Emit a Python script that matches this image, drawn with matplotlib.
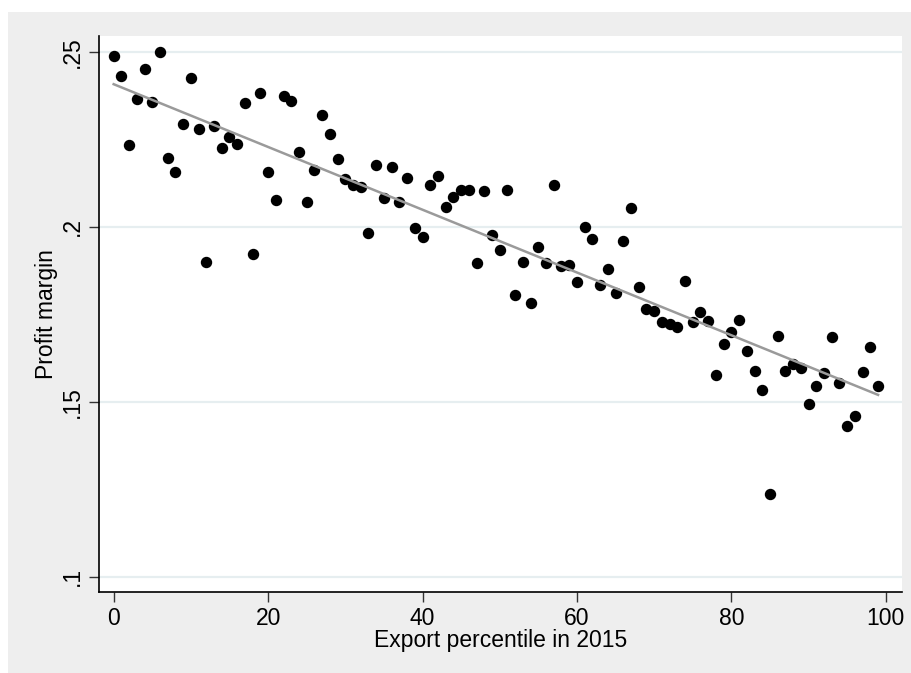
import numpy as np
import matplotlib
matplotlib.use("Agg")
import matplotlib.pyplot as plt
from matplotlib.patches import Rectangle

# ---------------------------
# DATA
# ---------------------------
export_pct = list(range(100))
profit_margin = [
    0.2489, 0.2431, 0.2234, 0.2365, 0.2451, 0.2357, 0.2500, 0.2197, 0.2157, 0.2294,
    0.2426, 0.2280, 0.1899, 0.2288, 0.2225, 0.2257, 0.2237, 0.2354, 0.1922, 0.2383,
    0.2157, 0.2076, 0.2374, 0.2360, 0.2214, 0.2071, 0.2162, 0.2320, 0.2265, 0.2194,
    0.2137, 0.2119, 0.2114, 0.1982, 0.2177, 0.2082, 0.2171, 0.2071, 0.2139, 0.1996,
    0.1971, 0.2119, 0.2145, 0.2056, 0.2085, 0.2105, 0.2105, 0.1896, 0.2102, 0.1976,
    0.1933, 0.2105, 0.1805, 0.1899, 0.1782, 0.1942, 0.1896, 0.2119, 0.1888, 0.1890,
    0.1842, 0.1999, 0.1965, 0.1833, 0.1879, 0.1810, 0.1959, 0.2054, 0.1827, 0.1764,
    0.1759, 0.1727, 0.1722, 0.1713, 0.1845, 0.1727, 0.1756, 0.1730, 0.1576, 0.1664,
    0.1699, 0.1733, 0.1644, 0.1587, 0.1533, 0.1235, 0.1687, 0.1587, 0.1607, 0.1596,
    0.1493, 0.1544, 0.1581, 0.1684, 0.1553, 0.1430, 0.1458, 0.1584, 0.1656, 0.1544,
]
x_ticks = [0, 20, 40, 60, 80, 100]
y_ticks = [0.1, 0.15, 0.2, 0.25]
y_tick_labels = [".1", ".15", ".2", ".25"]

FONT = "Liberation Sans"
FS = 16.5

# ---------------------------
# LINEAR FIT
# ---------------------------
slope, intercept = np.polyfit(export_pct, profit_margin, 1)
fit_x = np.array([min(export_pct), max(export_pct)])
fit_y = intercept + slope * fit_x

# ---------------------------
# PLOT
# ---------------------------
fig = plt.figure(figsize=(9.12, 6.73), dpi=100)
fig.patch.set_facecolor("white")
fig.patches.append(Rectangle((8 / 912, 0), 1, (673 - 12) / 673,
                             transform=fig.transFigure, facecolor="#EEEEEE",
                             edgecolor="none", zorder=-10))

ax = fig.add_axes([99 / 912, (673 - 592) / 673, (902 - 99) / 912, (592 - 36) / 673])
ax.set_zorder(1)
ax.set_facecolor("white")

for yv in y_ticks:
    ax.axhline(yv, color="#E6EEF0", linewidth=1.6, zorder=1)

ax.plot(export_pct, profit_margin, "o", color="black", markersize=7.2, zorder=3)
ax.plot(fit_x, fit_y, color="#9A9A9A", linewidth=1.8, zorder=4)

ax.set_xlim(-1.9, 102.1)
ax.set_ylim(0.0956, 0.2545)

ax.set_xticks(x_ticks)
ax.set_xticklabels([str(v) for v in x_ticks], fontname=FONT, fontsize=FS)
ax.set_yticks(y_ticks)
ax.set_yticklabels(y_tick_labels, fontname=FONT, fontsize=FS, rotation=90, va="center")

ax.tick_params(axis="both", direction="out", length=7, width=1, color="#333333", pad=4)

ax.spines["top"].set_visible(False)
ax.spines["right"].set_visible(False)
ax.spines["left"].set_linewidth(1.2)
ax.spines["bottom"].set_linewidth(1.2)

ax.set_xlabel("Export percentile in 2015", fontname=FONT, fontsize=FS, labelpad=-1)
ax.set_ylabel("Profit margin", fontname=FONT, fontsize=FS, labelpad=2)

plt.savefig("out.png", dpi=100)
